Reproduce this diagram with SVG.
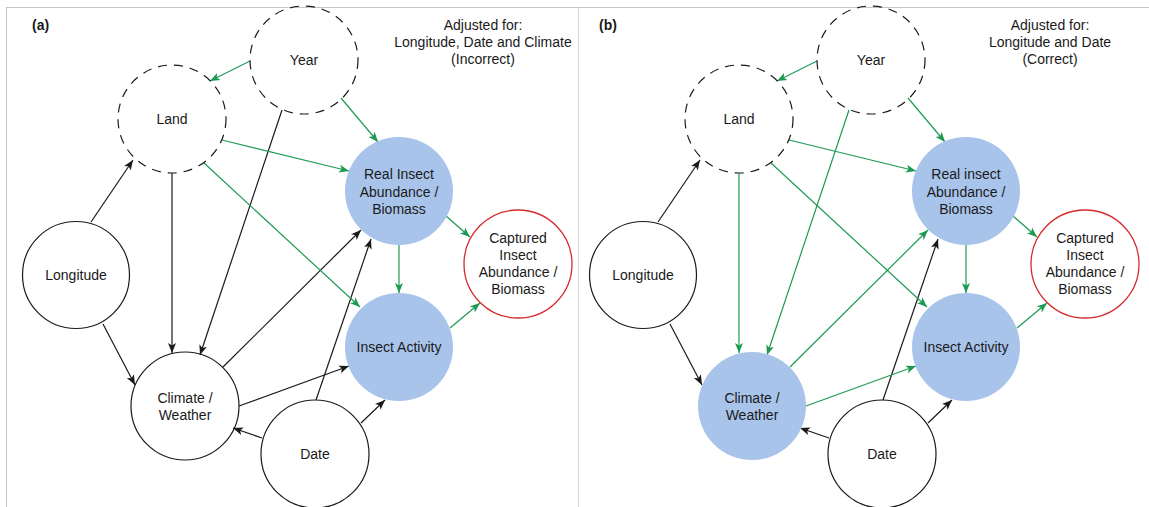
<svg xmlns="http://www.w3.org/2000/svg" width="1149" height="507" viewBox="0 0 1149 507">
<style>
text{font-family:"Liberation Sans",Arial,sans-serif;font-size:14px;fill:#1a1a1a;text-anchor:middle}
.lbl{font-weight:bold;font-size:14px;text-anchor:start}
.plain{fill:#fff;stroke:#1a1a1a;stroke-width:1.2}
.dash{fill:#fff;stroke:#1a1a1a;stroke-width:1.2;stroke-dasharray:9 7}
.blue{fill:#a9c4eb;stroke:none}
.red{fill:#fff;stroke:#d62a2a;stroke-width:1.3}
.k{stroke:#1a1a1a;stroke-width:1.2;fill:none;marker-end:url(#ak)}
.g{stroke:#1d9a52;stroke-width:1.2;fill:none;marker-end:url(#ag)}
</style>
<defs>
<marker id="ak" markerUnits="userSpaceOnUse" markerWidth="11" markerHeight="9" refX="10" refY="4.5" orient="auto" viewBox="0 0 11 9">
<path d="M0,0.5 L10,4.5 L0,8.5 L2.5,4.5 Z" fill="#1a1a1a"/>
</marker>
<marker id="ag" markerUnits="userSpaceOnUse" markerWidth="11" markerHeight="9" refX="10" refY="4.5" orient="auto" viewBox="0 0 11 9">
<path d="M0,0.5 L10,4.5 L0,8.5 L2.5,4.5 Z" fill="#1d9a52"/>
</marker>
</defs>
<rect x="0" y="0" width="1149" height="507" fill="#fff"/>
<g id="frame">
<line x1="6" y1="7.5" x2="1149" y2="7.5" stroke="#c4c4c4" stroke-width="1"/>
<line x1="6.5" y1="7" x2="6.5" y2="507" stroke="#c4c4c4" stroke-width="1"/>
<line x1="578.5" y1="7" x2="578.5" y2="507" stroke="#d6d6d6" stroke-width="1"/>
</g>

<!-- Panel (a) -->
<g id="panel-a">
<text class="lbl" x="32" y="30">(a)</text>
<g id="a-caption">
<text x="483" y="30">Adjusted for:</text>
<text x="483" y="47">Longitude, Date and Climate</text>
<text x="483" y="64">(Incorrect)</text>
</g>
<g id="a-connectors">
<line class="k" x1="91" y1="222" x2="133" y2="160"/>
<line class="k" x1="172" y1="173" x2="172" y2="353"/>
<line class="k" x1="282" y1="110" x2="200" y2="355"/>
<line class="k" x1="103" y1="324" x2="135" y2="385"/>
<line class="k" x1="223" y1="367" x2="361" y2="230"/>
<line class="k" x1="316" y1="400" x2="371" y2="239"/>
<line class="k" x1="239" y1="406" x2="349" y2="366"/>
<line class="k" x1="262" y1="438" x2="233" y2="428"/>
<line class="k" x1="361" y1="423" x2="385" y2="400"/>
<line class="g" x1="250" y1="61" x2="210" y2="81"/>
<line class="g" x1="341" y1="98" x2="378" y2="142"/>
<line class="g" x1="222" y1="140" x2="349" y2="171"/>
<line class="g" x1="204" y1="163" x2="360" y2="307"/>
<line class="g" x1="399" y1="245" x2="399" y2="293"/>
<line class="g" x1="446" y1="216" x2="470" y2="237"/>
<line class="g" x1="450" y1="328" x2="480" y2="303"/>
</g>
<g id="a-year"><circle class="dash" cx="304" cy="60" r="54" fill-opacity="0"/><text x="304" y="65">Year</text></g>
<g id="a-land"><circle class="dash" cx="172" cy="119" r="54" fill-opacity="0"/><text x="172" y="124">Land</text></g>
<g id="a-longitude"><circle class="plain" cx="76" cy="275" r="53.5" fill-opacity="0"/><text x="76" y="280">Longitude</text></g>
<g id="a-climate"><circle class="plain" cx="185" cy="406" r="54" fill-opacity="0"/><text x="185" y="402.5">Climate /</text><text x="185" y="420">Weather</text></g>
<g id="a-date"><circle class="plain" cx="315" cy="454" r="54" fill-opacity="0"/><text x="315" y="459">Date</text></g>
<g id="a-real"><circle class="blue" cx="399" cy="191" r="54"/><text x="399" y="179">Real Insect</text><text x="399" y="196.5">Abundance /</text><text x="399" y="214">Biomass</text></g>
<g id="a-activity"><circle class="blue" cx="399" cy="347" r="54"/><text x="399" y="352">Insect Activity</text></g>
<g id="a-captured"><circle class="red" cx="518" cy="264" r="54"/><text x="518" y="243">Captured</text><text x="518" y="260">Insect</text><text x="518" y="277">Abundance /</text><text x="518" y="294">Biomass</text></g>
</g>

<!-- Panel (b) -->
<g id="panel-b" transform="translate(567,0)">
<text class="lbl" x="32" y="30">(b)</text>
<g id="b-caption">
<text x="483" y="30">Adjusted for:</text>
<text x="483" y="47">Longitude and Date</text>
<text x="483" y="64">(Correct)</text>
</g>
<g id="b-connectors">
<line class="k" x1="91" y1="222" x2="133" y2="160"/>
<line class="g" x1="172" y1="173" x2="172" y2="353"/>
<line class="g" x1="282" y1="110" x2="200" y2="355"/>
<line class="k" x1="103" y1="324" x2="135" y2="385"/>
<line class="g" x1="223" y1="367" x2="361" y2="230"/>
<line class="k" x1="316" y1="400" x2="371" y2="239"/>
<line class="g" x1="239" y1="406" x2="349" y2="366"/>
<line class="k" x1="262" y1="438" x2="233" y2="428"/>
<line class="k" x1="361" y1="423" x2="385" y2="400"/>
<line class="g" x1="250" y1="61" x2="210" y2="81"/>
<line class="g" x1="341" y1="98" x2="378" y2="142"/>
<line class="g" x1="222" y1="140" x2="349" y2="171"/>
<line class="g" x1="204" y1="163" x2="360" y2="307"/>
<line class="g" x1="399" y1="245" x2="399" y2="293"/>
<line class="g" x1="446" y1="216" x2="470" y2="237"/>
<line class="g" x1="450" y1="328" x2="480" y2="303"/>
</g>
<g id="b-year"><circle class="dash" cx="304" cy="60" r="54" fill-opacity="0"/><text x="304" y="65">Year</text></g>
<g id="b-land"><circle class="dash" cx="172" cy="119" r="54" fill-opacity="0"/><text x="172" y="124">Land</text></g>
<g id="b-longitude"><circle class="plain" cx="76" cy="275" r="53.5" fill-opacity="0"/><text x="76" y="280">Longitude</text></g>
<g id="b-climate"><circle class="blue" cx="185" cy="406" r="54"/><text x="185" y="402.5">Climate /</text><text x="185" y="420">Weather</text></g>
<g id="b-date"><circle class="plain" cx="315" cy="454" r="54" fill-opacity="0"/><text x="315" y="459">Date</text></g>
<g id="b-real"><circle class="blue" cx="399" cy="191" r="54"/><text x="399" y="179">Real insect</text><text x="399" y="196.5">Abundance /</text><text x="399" y="214">Biomass</text></g>
<g id="b-activity"><circle class="blue" cx="399" cy="347" r="54"/><text x="399" y="352">Insect Activity</text></g>
<g id="b-captured"><circle class="red" cx="518" cy="264" r="54"/><text x="518" y="243">Captured</text><text x="518" y="260">Insect</text><text x="518" y="277">Abundance /</text><text x="518" y="294">Biomass</text></g>
</g>
</svg>
